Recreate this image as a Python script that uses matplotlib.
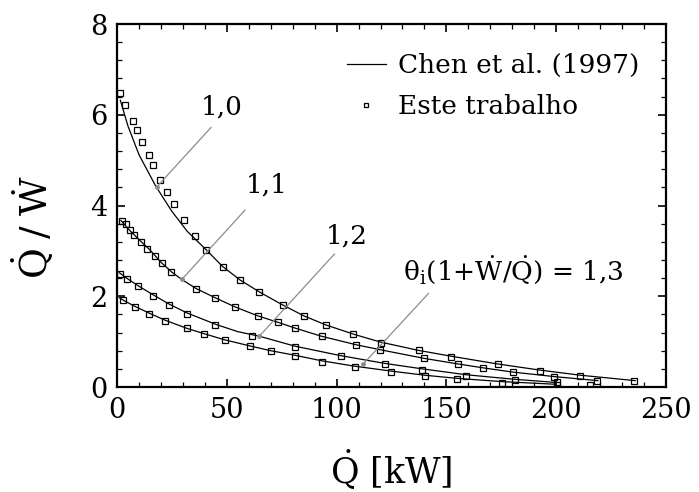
import numpy as np
import matplotlib
matplotlib.use("Agg")
import matplotlib.pyplot as plt
from matplotlib.ticker import MultipleLocator

plt.rcParams['font.family'] = 'DejaVu Serif'
plt.rcParams['mathtext.fontset'] = 'dejavuserif'

# measured points ("Este trabalho"), one list per theta_i(1+W/Q) value
x_10 = [1.5, 3.8, 7.1, 9.0, 11.5, 14.6, 16.4, 19.7, 22.9, 26.1, 30.6, 35.4, 40.5,
        48.4, 56.1, 64.7, 75.6, 85.2, 95.3, 107.6, 120.4, 137.3, 152.0, 173.6,
        192.8, 210.8, 235.6]
y_10 = [6.47, 6.21, 5.86, 5.66, 5.39, 5.11, 4.89, 4.56, 4.30, 4.03, 3.67, 3.33, 3.03,
        2.64, 2.35, 2.09, 1.80, 1.56, 1.36, 1.16, 0.98, 0.81, 0.67, 0.50,
        0.36, 0.25, 0.13]
x_11 = [2.1, 4.0, 5.9, 7.9, 10.9, 13.8, 17.2, 20.6, 24.7, 36.1, 44.8, 53.7, 64.1,
        73.2, 81.2, 93.2, 109.0, 119.8, 139.8, 155.4, 166.7, 180.3, 199.1, 215.5, 218.7]
y_11 = [3.66, 3.59, 3.46, 3.35, 3.20, 3.05, 2.88, 2.73, 2.53, 2.17, 1.97, 1.76, 1.57,
        1.43, 1.29, 1.12, 0.93, 0.82, 0.63, 0.50, 0.41, 0.32, 0.22, 0.04, 0.13]
x_12 = [1.4, 4.7, 9.7, 16.5, 23.7, 31.9, 44.8, 61.3, 81.1, 102.0, 121.9, 138.9, 158.8,
        181.4, 200.5]
y_12 = [2.49, 2.37, 2.23, 2.01, 1.81, 1.62, 1.37, 1.12, 0.89, 0.68, 0.51, 0.38, 0.25,
        0.15, 0.12]
x_13 = [2.9, 8.2, 14.7, 22.0, 31.9, 39.8, 49.0, 60.7, 70.3, 81.2, 93.2, 108.4, 124.8,
        140.1, 155.0, 175.5, 200.2]
y_13 = [1.92, 1.77, 1.62, 1.45, 1.29, 1.16, 1.03, 0.90, 0.79, 0.68, 0.56, 0.43, 0.34,
        0.24, 0.18, 0.09, 0.04]

# Chen et al. (1997) curves
cx_10 = [1.5, 5, 10, 17.6, 25, 32, 40.5, 48, 56, 65, 75, 85, 95, 108, 120, 137, 152,
         173, 193, 211, 236]
cy_10 = [6.32, 5.75, 5.12, 4.43, 3.87, 3.43, 3.03, 2.66, 2.36, 2.09, 1.82, 1.57, 1.37,
         1.16, 0.99, 0.81, 0.68, 0.51, 0.37, 0.26, 0.14]
cx_11 = [1.8, 5, 10, 15, 20, 25, 29.5, 36, 45, 54, 64, 73, 81, 93, 109, 120, 140, 155,
         167, 180, 199, 219]
cy_11 = [3.67, 3.49, 3.25, 3.02, 2.75, 2.53, 2.37, 2.17, 1.96, 1.76, 1.57, 1.43, 1.30,
         1.12, 0.93, 0.82, 0.63, 0.51, 0.42, 0.33, 0.23, 0.14]
cx_12 = [1, 5, 10, 16.5, 24, 32, 45, 55, 64.8, 81, 102, 122, 139, 159, 181, 200]
cy_12 = [2.52, 2.38, 2.22, 2.03, 1.82, 1.63, 1.38, 1.22, 1.12, 0.90, 0.69, 0.52, 0.40,
         0.27, 0.17, 0.10]
cx_13 = [1, 3, 8, 15, 22, 32, 40, 49, 61, 70, 81, 93, 108, 125, 140, 155, 175, 200]
cy_13 = [1.97, 1.91, 1.78, 1.62, 1.47, 1.29, 1.17, 1.04, 0.90, 0.80, 0.70, 0.58, 0.46,
         0.35, 0.26, 0.19, 0.12, 0.06]

# annotation: (label, point on curve, end of leader, text position)
labels = ['1,0', '1,1', '1,2',
          r'θ$_\mathrm{i}$(1+$\dot{\mathrm{W}}$/$\dot{\mathrm{Q}}$) = 1,3']
pts = [(18.1, 4.41), (29.5, 2.37), (64.8, 1.12), (112.0, 0.50)]
ends = [(42.8, 5.72), (58.3, 3.90), (99.0, 2.93), (141.8, 2.06)]
txt = [(47.8, 6.17), (68.3, 4.45), (104.7, 3.32), (180.3, 2.58)]

fig = plt.figure(figsize=(6.99, 4.92), dpi=100)
ax = fig.add_axes([0.1674, 0.2134, 0.7854, 0.7378])

curves = [(cx_10, cy_10), (cx_11, cy_11), (cx_12, cy_12), (cx_13, cy_13)]
data = [(x_10, y_10), (x_11, y_11), (x_12, y_12), (x_13, y_13)]
for i, (cx, cy) in enumerate(curves):
    ax.plot(cx, cy, color='black', lw=0.9,
            label='Chen et al. (1997)' if i == 0 else None)
for i, (xx, yy) in enumerate(data):
    ax.plot(xx, yy, ls='none', marker='s', ms=5, mfc='none', mec='black', mew=0.9,
            label='Este trabalho' if i == 0 else None)

for lab, p, e, t in zip(labels, pts, ends, txt):
    ax.plot([p[0], e[0]], [p[1], e[1]], color='#8c8c8c', lw=0.9)
    ax.plot(p[0], p[1], marker='o', ms=3.5, color='#8c8c8c', mec='none')
    ax.text(t[0], t[1], lab, fontsize=19, ha='center', va='center')

ax.set_xlim(0, 250)
ax.set_ylim(0, 8)
ax.xaxis.set_major_locator(MultipleLocator(50))
ax.xaxis.set_minor_locator(MultipleLocator(10))
ax.yaxis.set_major_locator(MultipleLocator(2))
ax.yaxis.set_minor_locator(MultipleLocator(0.4))
ax.tick_params(which='both', direction='in', top=True, right=True, labelsize=19.5)
ax.tick_params(which='major', length=6, width=1.2, pad=7)
ax.tick_params(which='minor', length=3.5, width=0.9)
for s in ax.spines.values():
    s.set_linewidth(1.6)

ax.set_xlabel(r'$\dot{\mathrm{Q}}$ [kW]', fontsize=25, labelpad=17)
ax.set_ylabel(r'$\dot{\mathrm{Q}}\;/\;\dot{\mathrm{W}}$', fontsize=27)
ax.yaxis.set_label_coords(-0.112, 0.44)

ax.legend(loc='upper right', bbox_to_anchor=(0.995, 0.985), frameon=False, fontsize=19,
          handlelength=1.5, handletextpad=0.45, labelspacing=0.6, markerscale=0.6)

fig.savefig('out.png', dpi=100)
